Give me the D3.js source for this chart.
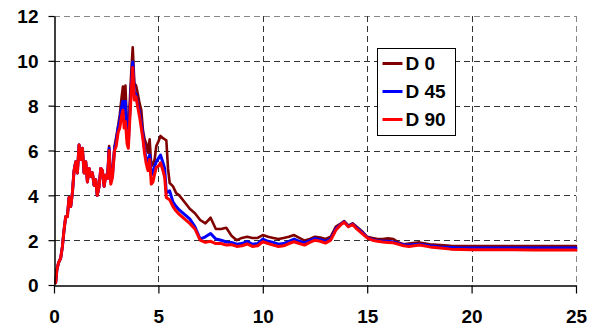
<!DOCTYPE html>
<html>
<head>
<meta charset="utf-8">
<script src="https://cdn.jsdelivr.net/npm/d3@7"></script>
<style>
  html, body { margin: 0; padding: 0; background: #fff; }
  svg { display: block; font-family: "Liberation Sans", Arial, sans-serif; }
</style>
</head>
<body>
<svg id="chart" width="599" height="329"></svg>
<script>
// Shared sample positions (x) for all three curves
const time = [
  0.08, 0.14, 0.22, 0.32, 0.40, 0.48, 0.56, 0.64, 0.72, 0.80,
  0.88, 0.96, 1.04, 1.12, 1.20, 1.28, 1.36, 1.44, 1.52, 1.60,
  1.68, 1.76, 1.84, 1.92, 2.00, 2.07, 2.16, 2.24, 2.32, 2.40,
  2.48, 2.56, 2.64, 2.72, 2.80, 2.90, 2.98, 3.07, 3.15, 3.23,
  3.30, 3.36, 3.42, 3.50, 3.56, 3.62, 3.70, 3.77, 3.85, 3.93,
  4.00, 4.10, 4.18, 4.26, 4.34, 4.42, 4.50, 4.58, 4.66, 4.74,
  4.82, 4.90, 5.00, 5.10, 5.22, 5.30, 5.38, 5.46, 5.54, 5.70,
  5.85, 6.00, 6.25, 6.50, 6.75, 7.00, 7.25, 7.50, 7.75, 8.00,
  8.25, 8.50, 8.75, 9.00, 9.25, 9.50, 9.75, 10.0, 10.25, 10.5,
  10.75, 11.0, 11.25, 11.5, 11.75, 12.0, 12.25, 12.5, 12.75, 13.0,
  13.25, 13.5, 13.75, 13.9, 14.1, 14.3, 14.5, 14.75, 15.0, 15.25,
  15.5, 15.75, 16.0, 16.25, 16.5, 16.75, 17.0, 17.5, 18.0, 18.5,
  19.0, 19.5, 20.0, 21, 22, 23, 24, 25
];

const d0 = [
  0.1, 0.7, 1.0, 1.2, 1.7, 2.45, 3.05, 3.05, 3.9, 3.5,
  4.1, 5.1, 5.5, 5.0, 6.25, 5.6, 6.1, 5.0, 5.5, 4.6,
  5.2, 4.85, 5.0, 4.45, 4.7, 4.0, 4.4, 5.2, 5.1, 4.4,
  4.9, 4.75, 6.2, 4.7, 5.0, 6.2, 6.6, 7.1, 7.6, 8.3,
  8.85, 8.0, 8.9, 7.0, 6.5, 8.0, 9.5, 10.6, 9.0, 8.9,
  8.6, 8.1, 7.8, 6.9, 6.5, 6.3, 5.9, 6.5, 5.3, 5.4,
  5.6, 6.2, 6.4, 6.65, 6.55, 6.5, 6.45, 5.2, 4.55, 4.4,
  4.1, 4.0, 3.7, 3.4, 3.2, 2.9, 2.75, 3.0, 2.5, 2.5,
  2.55, 2.2, 2.0, 2.1, 2.15, 2.1, 2.1, 2.23, 2.15, 2.1,
  2.05, 2.1, 2.15, 2.23, 2.1, 1.98, 2.05, 2.15, 2.12, 2.05,
  2.15, 2.6, 2.75, 2.85, 2.65, 2.75, 2.6, 2.4, 2.15, 2.1,
  2.05, 2.05, 2.08, 2.05, 1.9, 1.82, 1.85, 1.9, 1.82, 1.78,
  1.75, 1.74, 1.74, 1.74, 1.74, 1.74, 1.74, 1.74
];

const d45 = [
  0.1, 0.7, 1.0, 1.2, 1.7, 2.45, 3.05, 3.05, 3.9, 3.5,
  4.1, 5.1, 5.5, 5.0, 6.25, 5.6, 6.1, 5.0, 5.5, 4.6,
  5.2, 4.85, 5.0, 4.45, 4.7, 4.0, 4.4, 5.2, 5.1, 4.4,
  4.9, 4.75, 6.1, 4.6, 4.9, 6.1, 6.4, 7.0, 7.3, 7.9,
  8.2, 7.6, 8.2, 6.6, 6.3, 7.5, 8.9, 9.95, 8.6, 8.5,
  8.1, 7.7, 7.2, 6.7, 6.0, 5.6, 5.5, 5.8, 4.9, 5.0,
  5.3, 5.5, 5.65, 5.8, 5.45, 5.2, 4.1, 4.15, 4.2, 3.7,
  3.5, 3.35, 3.15, 2.95, 2.6, 2.05, 2.15, 2.3, 2.05, 2.0,
  1.92, 1.9, 1.82, 1.85, 1.95, 1.82, 1.85, 2.05, 1.95, 1.9,
  1.82, 1.85, 1.95, 2.05, 1.95, 1.88, 1.98, 2.08, 2.02, 1.95,
  2.05, 2.5, 2.72, 2.82, 2.62, 2.72, 2.55, 2.35, 2.12, 2.02,
  1.98, 1.95, 1.95, 1.92, 1.85, 1.8, 1.78, 1.82, 1.75, 1.7,
  1.67, 1.65, 1.65, 1.65, 1.65, 1.65, 1.65, 1.65
];

const d90 = [
  0.1, 0.7, 1.0, 1.2, 1.7, 2.45, 3.05, 3.05, 3.9, 3.5,
  4.1, 5.1, 5.5, 5.0, 6.25, 5.6, 6.1, 5.0, 5.5, 4.6,
  5.2, 4.85, 5.0, 4.45, 4.7, 4.0, 4.4, 5.2, 5.1, 4.4,
  4.9, 4.75, 6.0, 4.5, 4.8, 6.0, 6.2, 6.8, 7.0, 7.5,
  7.8, 7.0, 7.3, 6.3, 6.1, 7.2, 8.6, 9.7, 8.25, 8.4,
  8.0, 7.5, 7.0, 6.5, 5.85, 5.4, 5.1, 5.6, 4.5, 4.6,
  4.95, 5.25, 5.3, 5.45, 5.1, 4.8, 3.9, 3.85, 3.8, 3.5,
  3.3, 3.15, 2.95, 2.75, 2.5, 2.0, 1.9, 1.95, 1.85, 1.85,
  1.78, 1.8, 1.72, 1.75, 1.83, 1.72, 1.75, 1.93, 1.85, 1.78,
  1.72, 1.75, 1.85, 1.93, 1.85, 1.78, 1.9, 2.0, 1.95, 1.87,
  2.0, 2.45, 2.7, 2.8, 2.6, 2.7, 2.5, 2.3, 2.1, 2.0,
  1.95, 1.92, 1.9, 1.88, 1.82, 1.75, 1.72, 1.78, 1.7, 1.65,
  1.6, 1.58, 1.57, 1.57, 1.57, 1.56, 1.56, 1.56
];

const seriesNames = ["D 0", "D 45", "D 90"];
const seriesColors = ["#800000", "#0000FF", "#FF0000"];
const seriesWidths = [2.6, 3, 3];
const xTicks = [0, 5, 10, 15, 20, 25];
const yTicks = [0, 2, 4, 6, 8, 10, 12];

const svg = d3.select("#chart");
const plotLeft = 54, plotRight = 576, plotTop = 16, plotBottom = 285;

const x = d3.scaleLinear().domain([0, 25]).range([plotLeft, plotRight]);
const y = d3.scaleLinear().domain([0, 12]).range([plotBottom, plotTop]);

// Grid lines (dashed)
const grid = svg.append("g");
grid.selectAll("line.h").data(yTicks.filter(v => v > 0)).join("line")
  .attr("x1", plotLeft).attr("x2", plotRight)
  .attr("y1", d => Math.round(y(d)) + 0.5).attr("y2", d => Math.round(y(d)) + 0.5)
  .attr("stroke", d => d === 12 ? "#888" : "#333")
  .attr("stroke-width", 1)
  .attr("stroke-dasharray", "6,4");
grid.selectAll("line.v").data(xTicks.filter(v => v > 0)).join("line")
  .attr("y1", plotTop).attr("y2", plotBottom)
  .attr("x1", d => Math.round(x(d)) + 0.5).attr("x2", d => Math.round(x(d)) + 0.5)
  .attr("stroke", d => d === 25 ? "#888" : "#333")
  .attr("stroke-width", 1)
  .attr("stroke-dasharray", "6,4");

// Curves
const line = d3.line()
  .x((d, i) => x(time[i]))
  .y(d => y(d));

const values = [d0, d45, d90];
svg.append("g").selectAll("path").data(values).join("path")
  .attr("d", d => line(d))
  .attr("fill", "none")
  .attr("stroke", (d, i) => seriesColors[i])
  .attr("stroke-width", (d, i) => seriesWidths[i])
  .attr("stroke-linejoin", "round")
  .attr("stroke-linecap", "round");

// Axes
const xAxis = svg.append("g")
  .attr("transform", `translate(0,${plotBottom + 0.5})`)
  .call(d3.axisBottom(x).tickValues(xTicks).tickSize(8).tickSizeOuter(0).tickFormat(d3.format("d")));
xAxis.select(".domain").attr("stroke", "#000").attr("stroke-width", 1.5);
xAxis.selectAll(".tick line").attr("stroke", "#000").attr("stroke-width", 1.2);
xAxis.selectAll(".tick text")
  .attr("y", 0).attr("dy", 0)
  .attr("transform", "translate(0,37)")
  .attr("font-family", "Liberation Sans, Arial, sans-serif")
  .attr("font-size", 19).attr("font-weight", "bold").attr("fill", "#000");

const yAxis = svg.append("g")
  .attr("transform", `translate(${plotLeft + 0.5},0)`)
  .call(d3.axisLeft(y).tickValues(yTicks).tickSize(6).tickSizeOuter(0).tickFormat(d3.format("d")));
yAxis.select(".domain").attr("stroke", "#000").attr("stroke-width", 1.5);
yAxis.selectAll(".tick line").attr("stroke", "#000").attr("stroke-width", 1.2);
yAxis.selectAll(".tick text")
  .attr("x", -16).attr("dy", "0.36em")
  .attr("font-family", "Liberation Sans, Arial, sans-serif")
  .attr("font-size", 19).attr("font-weight", "bold").attr("fill", "#000");

// Legend
const legend = svg.append("g").attr("transform", "translate(377.5,48.5)");
legend.append("rect")
  .attr("width", 78).attr("height", 87)
  .attr("fill", "#fff").attr("stroke", "#000").attr("stroke-width", 1);
const item = legend.selectAll("g.item").data(seriesNames).join("g")
  .attr("transform", (d, i) => `translate(0,${15 + i * 28})`);
item.append("line")
  .attr("x1", 5).attr("x2", 25).attr("y1", 0).attr("y2", 0)
  .attr("stroke", (d, i) => seriesColors[i]).attr("stroke-width", 3);
item.append("text")
  .attr("x", 28).attr("dy", "0.36em")
  .attr("font-size", 19).attr("font-weight", "bold").attr("fill", "#000")
  .text(d => d);
</script>
</body>
</html>
